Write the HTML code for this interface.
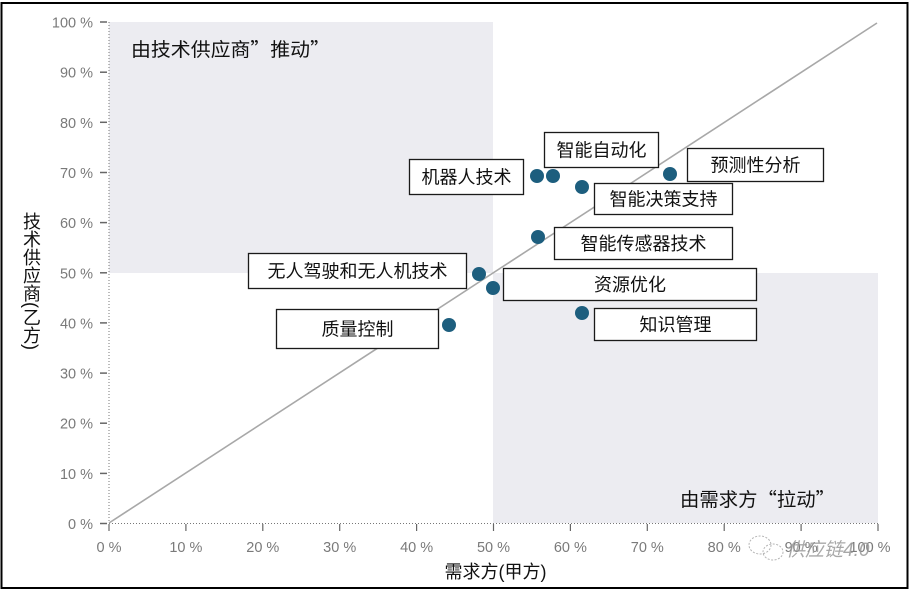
<!DOCTYPE html>
<html>
<head>
<meta charset="utf-8">
<style>
  html,body{margin:0;padding:0;background:#fff;}
  body{width:913px;height:590px;position:relative;overflow:hidden;}
  svg{position:absolute;left:0;top:0;}
  .ylab{position:absolute;left:21px;top:212px;width:20px;font-family:"Liberation Sans","Noto Sans CJK SC",sans-serif;font-size:18px;line-height:20px;color:#111;writing-mode:vertical-rl;}
</style>
</head>
<body>
<svg width="913" height="590" viewBox="0 0 913 590" xmlns="http://www.w3.org/2000/svg">
  <rect x="0" y="0" width="913" height="590" fill="#fff"/>
  <rect x="109" y="22" width="384" height="251" fill="#ececf1"/>
  <rect x="493" y="273" width="385" height="250" fill="#ececf1"/>

  <line x1="109" y1="22" x2="109" y2="523" stroke="#777" stroke-width="1" stroke-dasharray="1,2"/>
  <line x1="109" y1="523.5" x2="878" y2="523.5" stroke="#777" stroke-width="1" stroke-dasharray="1,2"/>

  <g stroke="#666" stroke-width="1.5">
    <line x1="100" y1="22" x2="107" y2="22"/>
    <line x1="100" y1="72.2" x2="107" y2="72.2"/>
    <line x1="100" y1="122.3" x2="107" y2="122.3"/>
    <line x1="100" y1="172.5" x2="107" y2="172.5"/>
    <line x1="100" y1="222.6" x2="107" y2="222.6"/>
    <line x1="100" y1="272.8" x2="107" y2="272.8"/>
    <line x1="100" y1="322.9" x2="107" y2="322.9"/>
    <line x1="100" y1="373.1" x2="107" y2="373.1"/>
    <line x1="100" y1="423.2" x2="107" y2="423.2"/>
    <line x1="100" y1="473.4" x2="107" y2="473.4"/>
    <line x1="100" y1="523.5" x2="107" y2="523.5"/>
  </g>
  <g stroke="#666" stroke-width="1.2">
    <line x1="109" y1="524" x2="109" y2="531"/>
    <line x1="185.9" y1="524" x2="185.9" y2="531"/>
    <line x1="262.8" y1="524" x2="262.8" y2="531"/>
    <line x1="339.7" y1="524" x2="339.7" y2="531"/>
    <line x1="416.6" y1="524" x2="416.6" y2="531"/>
    <line x1="493.5" y1="524" x2="493.5" y2="531"/>
    <line x1="570.4" y1="524" x2="570.4" y2="531"/>
    <line x1="647.3" y1="524" x2="647.3" y2="531"/>
    <line x1="724.2" y1="524" x2="724.2" y2="531"/>
    <line x1="801.1" y1="524" x2="801.1" y2="531"/>
    <line x1="878" y1="524" x2="878" y2="531"/>
  </g>

  <g font-family="Liberation Sans, Arial, sans-serif" font-size="14.5" fill="#7a7a7a" text-anchor="end">
    <text x="93" y="27.5">100 %</text>
    <text x="93" y="77.7">90 %</text>
    <text x="93" y="127.8">80 %</text>
    <text x="93" y="178">70 %</text>
    <text x="93" y="228.1">60 %</text>
    <text x="93" y="278.3">50 %</text>
    <text x="93" y="328.4">40 %</text>
    <text x="93" y="378.6">30 %</text>
    <text x="93" y="428.7">20 %</text>
    <text x="93" y="478.9">10 %</text>
    <text x="93" y="529">0 %</text>
  </g>
  <g font-family="Liberation Sans, Arial, sans-serif" font-size="14.5" fill="#7a7a7a" text-anchor="middle">
    <text x="109" y="552">0 %</text>
    <text x="185.9" y="552">10 %</text>
    <text x="262.8" y="552">20 %</text>
    <text x="339.7" y="552">30 %</text>
    <text x="416.6" y="552">40 %</text>
    <text x="493.5" y="552">50 %</text>
    <text x="570.4" y="552">60 %</text>
    <text x="647.3" y="552">70 %</text>
    <text x="724.2" y="552">80 %</text>
    <text x="801.1" y="552">90 %</text>
    <text x="870" y="552">100 %</text>
  </g>

  <line x1="109" y1="523" x2="877" y2="23" stroke="#a8a8a8" stroke-width="1.6"/>

  <g font-family="Noto Sans CJK SC, sans-serif" fill="#111" font-size="19">
    <text x="131" y="56" textLength="199" lengthAdjust="spacingAndGlyphs">由技术供应商”推动”</text>
    <text x="680" y="506" textLength="155" lengthAdjust="spacingAndGlyphs">由需求方“拉动”</text>
  </g>

  <g fill="#1d5e7e">
    <circle cx="537" cy="176" r="7"/>
    <circle cx="553" cy="176" r="7"/>
    <circle cx="670" cy="174" r="7"/>
    <circle cx="582" cy="187" r="7"/>
    <circle cx="538" cy="237" r="7"/>
    <circle cx="479" cy="274" r="7"/>
    <circle cx="493" cy="288" r="7"/>
    <circle cx="449" cy="325" r="7"/>
    <circle cx="582" cy="313" r="7"/>
  </g>

  <g fill="#fff" stroke="#1a1a1a" stroke-width="1.3">
    <rect x="409.5" y="159.5" width="114" height="35"/>
    <rect x="544.5" y="132.5" width="114" height="35"/>
    <rect x="687.5" y="148.5" width="136" height="33"/>
    <rect x="594.5" y="183.5" width="138" height="31"/>
    <rect x="554.5" y="227.5" width="178" height="32"/>
    <rect x="503.5" y="268.5" width="253" height="32"/>
    <rect x="248.5" y="253.5" width="218" height="35"/>
    <rect x="276.5" y="309.5" width="162" height="39"/>
    <rect x="594.5" y="308.5" width="162" height="32"/>
  </g>
  <g font-family="Liberation Sans, Noto Sans CJK SC, sans-serif" fill="#111" font-size="18" text-anchor="middle">
    <text x="466.5" y="183.5">机器人技术</text>
    <text x="601.5" y="156.5">智能自动化</text>
    <text x="755.5" y="171.5">预测性分析</text>
    <text x="663.5" y="205.5">智能决策支持</text>
    <text x="643.5" y="250">智能传感器技术</text>
    <text x="630" y="291">资源优化</text>
    <text x="357.5" y="277.5">无人驾驶和无人机技术</text>
    <text x="357.5" y="335.5">质量控制</text>
    <text x="675.5" y="331">知识管理</text>
  </g>

  <text x="495.5" y="578" font-family="Liberation Sans, Noto Sans CJK SC, sans-serif" font-size="18" fill="#111" text-anchor="middle">需求方(甲方)</text>

  <g fill="none" stroke="#b5b5b5" stroke-width="1" stroke-dasharray="2,1.5">
    <ellipse cx="760" cy="545" rx="11" ry="9"/>
    <ellipse cx="773" cy="552" rx="10" ry="8"/>
  </g>
  <text x="786" y="556" font-family="Liberation Sans, Noto Sans CJK SC, sans-serif" font-size="19" fill="#9a9a9a" font-style="italic" opacity="0.85">供应链4.0</text>

  <rect x="1.5" y="3" width="906" height="585" fill="none" stroke="#000" stroke-width="2"/>
</svg>
<div class="ylab">技术供应商(乙方)</div>
</body>
</html>
